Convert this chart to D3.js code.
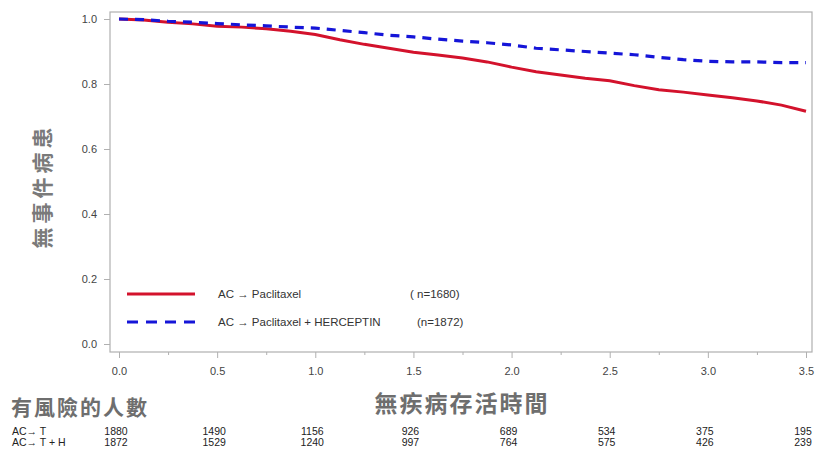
<!DOCTYPE html>
<html><head><meta charset="utf-8">
<script src="https://cdn.jsdelivr.net/npm/d3@7"></script>
<style>body{margin:0;background:#fff;} svg{display:block;}</style>
</head><body>
<svg id="chart" width="824" height="455"></svg>
<script>
const times = [0,0.125,0.25,0.375,0.5,0.625,0.75,0.875,1.0,1.125,1.25,1.375,1.5,1.625,1.75,1.875,2.0,2.125,2.25,2.375,2.5,2.625,2.75,2.875,3.0,3.125,3.25,3.375,3.5];
const survAC_T = [1.0,0.997,0.990,0.985,0.978,0.975,0.970,0.962,0.952,0.936,0.922,0.910,0.898,0.889,0.880,0.868,0.852,0.838,0.828,0.818,0.810,0.795,0.782,0.775,0.766,0.758,0.748,0.735,0.716];
const survAC_TH = [1.0,0.998,0.993,0.990,0.986,0.982,0.979,0.975,0.972,0.965,0.958,0.950,0.945,0.938,0.932,0.927,0.920,0.910,0.905,0.900,0.895,0.890,0.882,0.875,0.870,0.868,0.868,0.866,0.866];
const xTicks = [0,0.5,1.0,1.5,2.0,2.5,3.0,3.5];
const yTicks = [0,0.2,0.4,0.6,0.8,1.0];
const riskLabels = ["AC→ T","AC→ T + H"];
const riskAC_T = [1880,1490,1156,926,689,534,375,195];
const riskAC_TH = [1872,1529,1240,997,764,575,426,239];
const legendNames = ["AC → Paclitaxel","AC → Paclitaxel + HERCEPTIN"];
const legendN = ["( n=1680)","(n=1872)"];
const yTitle = "無事件病患";
const xTitle = "無疾病存活時間";
const riskTitle = "有風險的人數";

const svg = d3.select("#chart");
const x = d3.scaleLinear().domain([0,3.5]).range([119,806]);
const y = d3.scaleLinear().domain([0,1]).range([344,19]);
const frame = {l:110, r:812, t:12, b:352};
const grey = "#b0b0b0";
const sans = "Liberation Sans, Arial, sans-serif";

// frame
svg.append("rect").attr("x",frame.l).attr("y",frame.t).attr("width",frame.r-frame.l).attr("height",frame.b-frame.t)
  .attr("fill","#fff").attr("stroke",grey).attr("stroke-width",1.2);

// y axis
const yAxis = d3.axisLeft(y).tickValues(yTicks).tickFormat(d3.format(".1f")).tickSize(6).tickPadding(7);
const gy = svg.append("g").attr("transform",`translate(${frame.l},0)`).call(yAxis);
gy.select(".domain").remove();
gy.selectAll("line").attr("stroke",grey);
gy.selectAll("text").attr("font-family",sans).attr("font-size",11).attr("fill","#444");

// x axis major
const xAxis = d3.axisBottom(x).tickValues(xTicks).tickFormat(d3.format(".1f")).tickSize(6).tickPadding(9);
const gx = svg.append("g").attr("transform",`translate(0,${frame.b})`).call(xAxis);
gx.select(".domain").remove();
gx.selectAll("line").attr("stroke",grey);
gx.selectAll("text").attr("font-family",sans).attr("font-size",11).attr("fill","#444");
// minor ticks
const minor = d3.range(0.25,3.5,0.5);
svg.append("g").attr("transform",`translate(0,${frame.b})`).call(d3.axisBottom(x).tickValues(minor).tickSize(3).tickFormat(""))
  .call(g=>{g.select(".domain").remove(); g.selectAll("line").attr("stroke",grey);});

// lines
const line = d3.line().x((d,i)=>x(times[i])).y(d=>y(d)).curve(d3.curveLinear);
svg.append("path").datum(survAC_T).attr("d",line).attr("fill","none").attr("stroke","#d3122c").attr("stroke-width",3);
svg.append("path").datum(survAC_TH).attr("d",line).attr("fill","none").attr("stroke","#1515d8").attr("stroke-width",3.2).attr("stroke-dasharray","9,7");

// legend
const lg = [{c:"#d3122c",dash:null,y:294,nx:410},{c:"#1515d8",dash:"11,8",y:322,nx:417}];
lg.forEach((L,i)=>{
  svg.append("line").attr("x1",127).attr("x2",195).attr("y1",L.y).attr("y2",L.y).attr("stroke",L.c).attr("stroke-width",3.2).attr("stroke-dasharray",L.dash);
  svg.append("text").attr("x",218).attr("y",L.y+4).text(legendNames[i]).attr("font-family",sans).attr("font-size",11.5).attr("fill","#333");
  svg.append("text").attr("x",L.nx).attr("y",L.y+4).text(legendN[i]).attr("font-family",sans).attr("font-size",11.5).attr("fill","#333");
});

// titles
const cjk = "'Noto Sans CJK TC','Noto Sans CJK SC',sans-serif";
svg.append("text").attr("transform","translate(50,186) rotate(-90)").attr("text-anchor","middle")
  .attr("font-family",cjk).attr("font-size",21).attr("font-weight","bold").attr("fill","#7a7a7a").attr("letter-spacing",4).text(yTitle);
svg.append("text").attr("x",462).attr("y",412).attr("text-anchor","middle")
  .attr("font-family",cjk).attr("font-size",23).attr("font-weight","bold").attr("fill","#6e6e6e").attr("letter-spacing",2).text(xTitle);
svg.append("text").attr("x",11).attr("y",415)
  .attr("font-family",cjk).attr("font-size",21).attr("font-weight","bold").attr("fill","#6e6e6e").attr("letter-spacing",2).text(riskTitle);

// risk table
const rows = [riskAC_T, riskAC_TH];
const rowY = [435,446];
rows.forEach((r,i)=>{
  svg.append("text").attr("x",12).attr("y",rowY[i]).text(riskLabels[i]).attr("font-family",sans).attr("font-size",10.5).attr("fill","#222");
  svg.selectAll(null).data(r).enter().append("text")
    .attr("x",(d,j)=>x(xTicks[j])-3).attr("y",rowY[i]).attr("text-anchor","middle")
    .attr("font-family",sans).attr("font-size",10.5).attr("fill","#222").text(d=>d);
});
</script>
</body></html>
